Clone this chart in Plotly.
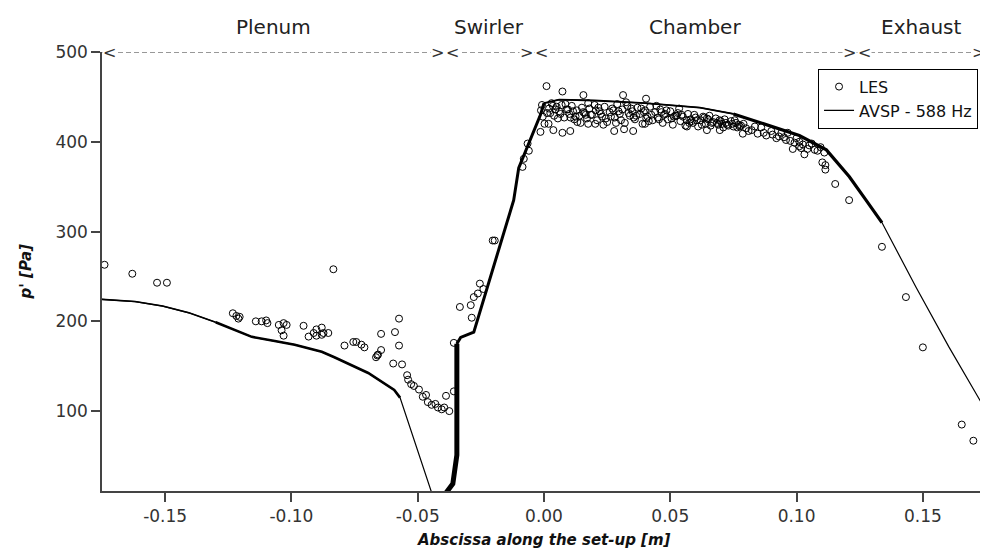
import plotly.graph_objects as go

# ---------------- data ----------------
avsp_x = [-0.178, -0.1729, -0.1619, -0.1510, -0.1406, -0.1300, -0.1224, -0.1157, -0.1066,
          -0.0987, -0.0880, -0.0830, -0.0696, -0.0593, -0.0570, -0.0434, -0.0412,
          -0.0361, -0.0345, -0.0345, -0.0330, -0.0278, -0.0120, -0.0100, -0.0014,
          0.0000, 0.0060, 0.0200, 0.0400, 0.0617, 0.0750, 0.0880, 0.1011, 0.1118,
          0.1209, 0.1275, 0.1338, 0.1473, 0.1603, 0.1749, 0.1790]
avsp_y = [225, 224, 222, 217, 209.5, 199, 190.5, 182.7, 178,
          174, 166, 160, 142.5, 123.6, 115, 0, 0,
          19, 51, 175, 182, 188, 335, 371, 430,
          443, 447, 446, 443, 438, 431, 419, 407, 391,
          361, 335, 310, 238, 171.5, 101, 80]

les_x = [
    -0.1740, -0.1630, -0.1532, -0.1493,
    -0.1232, -0.1218, -0.1210, -0.1205, -0.1141, -0.1118, -0.1100, -0.1095,
    -0.1050, -0.1031, -0.1039, -0.1031, -0.1019, -0.0952, -0.0932, -0.0912,
    -0.0901, -0.0901, -0.0880, -0.0880, -0.0873, -0.0854, -0.0834,
    -0.0790, -0.0755, -0.0743, -0.0723, -0.0711, -0.0645, -0.0590, -0.0574, -0.0574,
    -0.0645, -0.0657, -0.0665, -0.0660, -0.0597, -0.0562, -0.0542, -0.0538, -0.0526,
    -0.0515, -0.0495, -0.0480, -0.0467, -0.0460, -0.0445, -0.0430, -0.0420, -0.0405,
    -0.0395, -0.0388, -0.0375, -0.0357, -0.0357,
    -0.0333, -0.0290, -0.0286, -0.0278, -0.0262, -0.0254, -0.0240, -0.0203, -0.0195,
    -0.0085, -0.0080, -0.0065, -0.0060,
    -0.0014, -0.0012, -0.0008, -0.0005, 0.0002,
    0.0010, 0.0073, 0.0156, 0.0313, 0.0404, 0.0037, 0.0073, 0.0104, 0.0132, 0.0018,
    0.0175, 0.0203, 0.0278, 0.0317, 0.0353, 0.0400, 0.0566, 0.0645, 0.0696, 0.0775, 0.0787,
    0.0020, 0.0030, 0.0040, 0.0050, 0.0060, 0.0070, 0.0080, 0.0090, 0.0100, 0.0110,
    0.0120, 0.0130, 0.0140, 0.0150, 0.0160, 0.0170, 0.0180, 0.0190, 0.0200, 0.0210,
    0.0220, 0.0230, 0.0240, 0.0250, 0.0260, 0.0270, 0.0280, 0.0290, 0.0300, 0.0310,
    0.0320, 0.0330, 0.0340, 0.0350, 0.0360, 0.0370, 0.0380, 0.0390, 0.0400, 0.0410,
    0.0420, 0.0430, 0.0440, 0.0450, 0.0460, 0.0470, 0.0480, 0.0490, 0.0500, 0.0510,
    0.0520, 0.0530, 0.0540, 0.0550, 0.0560, 0.0570, 0.0580, 0.0590, 0.0600, 0.0610,
    0.0620, 0.0630, 0.0640, 0.0650, 0.0660, 0.0670, 0.0680, 0.0690, 0.0700, 0.0710,
    0.0720, 0.0730, 0.0740, 0.0750, 0.0760, 0.0770,
    0.0025, 0.0055, 0.0085, 0.0115, 0.0145, 0.0175, 0.0205, 0.0235, 0.0265, 0.0295,
    0.0325, 0.0355, 0.0385, 0.0415, 0.0445, 0.0475, 0.0505, 0.0535, 0.0565, 0.0595,
    0.0625, 0.0655, 0.0685, 0.0715, 0.0745,
    0.0035, 0.0065, 0.0095, 0.0125, 0.0155, 0.0185, 0.0215, 0.0245, 0.0275, 0.0305,
    0.0335, 0.0365, 0.0395, 0.0425, 0.0455, 0.0485, 0.0515, 0.0545, 0.0575, 0.0605,
    0.0635, 0.0665, 0.0695, 0.0725, 0.0755, 0.0765, 0.0780,
    0.0012, 0.0045, 0.0105, 0.0165, 0.0225, 0.0285, 0.0345, 0.0405, 0.0465, 0.0525,
    0.0585, 0.0645, 0.0705,
    0.0790, 0.0800, 0.0822, 0.0846, 0.0860, 0.0880, 0.0900, 0.0920, 0.0940, 0.0950,
    0.0965, 0.0975, 0.0985, 0.1000, 0.1011, 0.1011, 0.1025, 0.1031, 0.1043, 0.1060,
    0.1083, 0.1095, 0.1110, 0.1102, 0.1114, 0.1114, 0.1153, 0.1208, 0.1338, 0.1433,
    0.1500, 0.1654, 0.1700,
    0.0810, 0.0835, 0.0870, 0.0905, 0.0930, 0.0958, 0.0992, 0.1018, 0.1050, 0.1072]
les_y = [
    263, 253, 243, 243,
    209, 206, 203, 205, 200, 200, 201, 198,
    196, 198, 190, 184, 196, 195, 183, 187,
    191, 184, 193, 185, 187, 187, 258,
    173, 177, 177, 174, 171, 186, 188, 203, 173,
    168, 163, 160, 162, 153, 152, 140, 135, 130,
    128, 124, 116, 118, 110, 107, 108, 104, 102,
    104, 117, 100, 122, 176,
    216, 218, 204, 227, 231, 242, 236, 290, 290,
    372, 381, 398, 390,
    411, 435, 441, 428, 420,
    462, 456, 452, 452, 448, 413, 410, 412, 422, 420,
    420, 420, 412, 414, 412, 420, 417, 413, 413, 417, 409,
    437, 443, 429, 439, 434, 441, 427, 436, 431, 440,
    425, 435, 429, 438, 432, 426, 437, 430, 441, 424,
    434, 428, 439, 422, 433, 437, 427, 442, 431, 436,
    421, 440, 429, 434, 425, 438, 431, 420, 435, 428,
    439, 424, 433, 427, 436, 421, 431, 425, 434, 419,
    429, 432, 423, 428, 418, 431, 425, 421, 427, 417,
    424, 428, 420, 425, 418, 422, 426, 419, 423, 416,
    421, 418, 423, 417, 421, 419,
    432, 426, 442, 434, 421, 443, 435, 419, 428, 434,
    444, 427, 437, 423, 440, 430, 426, 437, 424, 430,
    419, 429, 421, 425, 420,
    440, 431, 436, 428, 433, 430, 438, 426, 435, 424,
    432, 429, 433, 430, 425, 435, 428, 430, 421, 424,
    427, 421, 424, 419, 424, 416, 418,
    432, 436, 427, 430, 431, 421, 437, 426, 433, 429,
    423, 426, 420,
    420, 415, 413, 409, 416, 407, 412, 404, 410, 405,
    410, 401, 392, 404, 395, 400, 397, 386, 392, 398,
    390, 394, 388, 377, 374, 369, 353, 335, 283, 227,
    171, 85, 67,
    412, 417, 410, 408, 406, 402, 399, 393, 396, 391]

section_names = ["Plenum", "Swirler", "Chamber", "Exhaust"]
section_edges = [-0.175, -0.0392, -0.0041, 0.124, 0.175]

x_ticks = [-0.15, -0.10, -0.05, 0.00, 0.05, 0.10, 0.15]
y_ticks = [100, 200, 300, 400, 500]

# thick overlay pieces of the AVSP curve (index ranges into avsp arrays)
thick_pieces = [(0, 6, 1.6), (5, 15, 2.6), (16, 20, 5), (19, 26, 3), (25, 31, 1.8), (30, 37, 3.2)]

FONT = "DejaVu Sans"
fig = go.Figure()

for a, b, w in thick_pieces:
    fig.add_trace(go.Scatter(x=avsp_x[a:b], y=avsp_y[a:b], mode="lines",
                             line=dict(color="black", width=w),
                             showlegend=False, hoverinfo="skip"))

fig.add_trace(go.Scatter(x=les_x, y=les_y, mode="markers", name="LES",
                         marker=dict(symbol="circle-open", size=7, color="black",
                                     line=dict(width=1, color="black"))))
fig.add_trace(go.Scatter(x=avsp_x, y=avsp_y, mode="lines", name="AVSP - 588 Hz",
                         line=dict(color="black", width=1.2)))

# section arrows at the top
fig.add_shape(type="line", xref="x", yref="y", x0=section_edges[0], x1=section_edges[-1],
              y0=500, y1=500, line=dict(color="#333", width=1, dash="5px,3px"))
annos = []
for i, name in enumerate(section_names):
    x0, x1 = section_edges[i], section_edges[i + 1]
    annos.append(dict(x=(x0 + x1) / 2, y=1, xref="x", yref="paper", yshift=25,
                      yanchor="middle", text=name, showarrow=False,
                      font=dict(family=FONT, size=20, color="#222")))
    annos.append(dict(x=x0, y=500, xref="x", yref="y", text="<", showarrow=False,
                      xanchor="left", yanchor="middle", bgcolor="white", borderpad=0,
                      font=dict(family=FONT, size=16, color="#333")))
    annos.append(dict(x=x1, y=500, xref="x", yref="y", text=">", showarrow=False,
                      xanchor="right", yanchor="middle", bgcolor="white", borderpad=0,
                      font=dict(family=FONT, size=16, color="#333")))

annos.append(dict(x=0.5, y=0, xref="paper", yref="paper", yshift=-49,
                  text="Abscissa along the set-up [m]", showarrow=False,
                  yanchor="middle",
                  font=dict(family=FONT, size=15, color="#111", weight="bold", style="italic")))
annos.append(dict(x=0, y=0.5, xref="paper", yref="paper", xshift=-77,
                  text="p' [Pa]", showarrow=False, textangle=-90,
                  xanchor="center", yanchor="middle",
                  font=dict(family=FONT, size=15, color="#111", weight="bold", style="italic")))

# the page body has an 8px margin: size the figure so it fits the 988x550 window
fig.update_layout(
    width=980, height=542,
    margin=dict(l=94, r=2, t=44, b=59),
    paper_bgcolor="white", plot_bgcolor="white",
    annotations=annos,
    legend=dict(x=0.81, y=0.962, xanchor="left", yanchor="top",
                bgcolor="white", bordercolor="black", borderwidth=1,
                font=dict(family=FONT, size=16, color="#111"),
                tracegroupgap=0, itemwidth=30),
    xaxis=dict(range=[-0.175, 0.175], tickvals=x_ticks,
               ticktext=[f"{v:.2f}" for v in x_ticks],
               showgrid=False, zeroline=False, showline=True,
               linecolor="#444", linewidth=1.5, ticks="outside", ticklen=9,
               tickcolor="#444", tickwidth=1.5,
               tickfont=dict(family=FONT, size=17, color="#333")),
    yaxis=dict(range=[11, 500], tickvals=y_ticks,
               showgrid=False, zeroline=False, showline=True,
               linecolor="#444", linewidth=1.5, ticks="outside", ticklen=9,
               tickcolor="#444", tickwidth=1.5,
               tickfont=dict(family=FONT, size=17, color="#333")),
)

fig.write_html("out.html")
